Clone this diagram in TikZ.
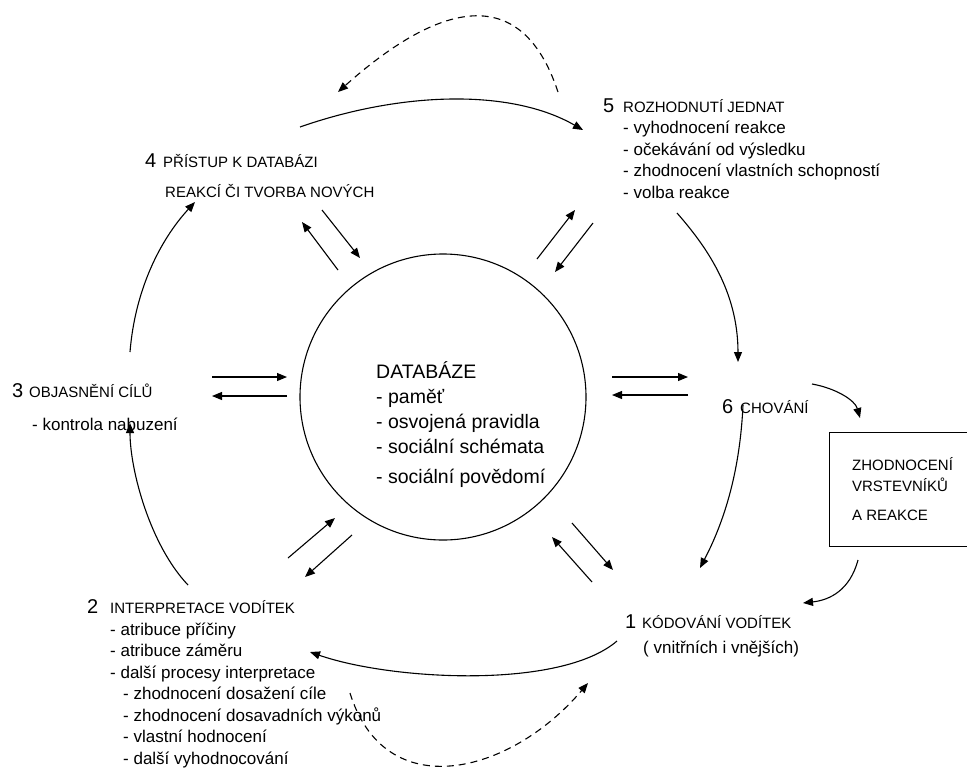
\documentclass[tikz,border=0pt]{standalone}
\usepackage{fontspec}
\setmainfont{Liberation Sans}
\usetikzlibrary{arrows.meta}

\newcommand{\nr}[2][18pt]{\makebox[#1][l]{\fontsize{20}{20}\selectfont #2}}
\newcommand{\hd}{\fontsize{15}{15}\selectfont}

\tikzset{
  txt/.style={font=\fontsize{17}{22}\selectfont, align=left, inner sep=0pt, anchor=base west},
  arr/.style={-{Triangle[length=10pt,width=8pt]}, line width=1.1pt},
  dasharr/.style={arr, dash pattern=on 7pt off 5pt},
}

\begin{document}
\begin{tikzpicture}[x=1pt,y=-1pt]
    \useasboundingbox (0,0) rectangle (967,769);
    \clip (0,0) rectangle (967,769);

    % databaze uprostred
    \node[circle, draw, line width=1.1pt, minimum size=286pt] (db) at (443,397) {};
    \node[txt, font=\fontsize{19.5}{25}\selectfont] (dbtxt) at (376,483)
        {DATABÁZE\\- paměť\\- osvojená pravidla\\- sociální schémata\\[5pt]- sociální povědomí};

    % kroky (base = posledni radek)
    \node[txt, font=\fontsize{17}{21.5}\selectfont] (n5) at (603,198)
        {\nr[20pt]{5}{\hd ROZHODNUTÍ JEDNAT}\\
         \hspace*{20pt}- vyhodnocení reakce\\
         \hspace*{20pt}- očekávání od výsledku\\
         \hspace*{20pt}- zhodnocení vlastních schopností\\
         \hspace*{20pt}- volba reakce};
    \node[txt] (n4) at (145,197)
        {\nr{4}{\hd PŘÍSTUP K DATABÁZI}\\[8pt]
         \hspace*{20pt}{\hd REAKCÍ ČI TVORBA NOVÝCH}};
    \node[txt] (n3) at (12,430)
        {\nr[17pt]{3}{\hd OBJASNĚNÍ CÍLŮ}\\[11pt]
         \hspace*{20pt}- kontrola nabuzení};
    \node[txt, font=\fontsize{17}{21.5}\selectfont] (n2) at (87,764)
        {\nr[23pt]{2}{\hd INTERPRETACE VODÍTEK}\\
         \hspace*{23pt}- atribuce příčiny\\
         \hspace*{23pt}- atribuce záměru\\
         \hspace*{23pt}- další procesy interpretace\\
         \hspace*{36pt}- zhodnocení dosažení cíle\\
         \hspace*{36pt}- zhodnocení dosavadních výkonů\\
         \hspace*{36pt}- vlastní hodnocení\\
         \hspace*{36pt}- další vyhodnocování};
    \node[txt] (n1) at (625,653)
        {\nr[17pt]{1}{\hd KÓDOVÁNÍ VODÍTEK}\\[3pt]
         \hspace*{18pt}( vnitřních i vnějších)};
    \node[txt] (n6) at (722,413) {\nr{6}{\hd CHOVÁNÍ}};
    \node[draw, line width=1.1pt, minimum width=146pt, minimum height=114pt,
          anchor=north west, align=left, font=\fontsize{15}{21}\selectfont] (peers) at (829,432)
        {ZHODNOCENÍ\\VRSTEVNÍKŮ\\[8pt]A REAKCE};

    % konce sipek kolem kruhu
    \coordinate (la1) at (212,377); \coordinate (la2) at (287,377);
    \coordinate (lb1) at (287,396); \coordinate (lb2) at (212,396);
    \coordinate (ra1) at (612,377); \coordinate (ra2) at (688,377);
    \coordinate (rb1) at (688,395); \coordinate (rb2) at (612,395);
    \coordinate (ula1) at (338,270); \coordinate (ula2) at (302,222);
    \coordinate (ulb1) at (322,210); \coordinate (ulb2) at (360,258);
    \coordinate (ura1) at (537,259); \coordinate (ura2) at (575,210);
    \coordinate (urb1) at (593,223); \coordinate (urb2) at (555,272);
    \coordinate (lla1) at (352,535); \coordinate (lla2) at (305,577);
    \coordinate (llb1) at (288,558); \coordinate (llb2) at (335,518);
    \coordinate (lra1) at (572,523); \coordinate (lra2) at (613,570);
    \coordinate (lrb1) at (592,582); \coordinate (lrb2) at (552,537);

    \draw[arr] (la1) -- (la2);
    \draw[arr] (lb1) -- (lb2);
    \draw[arr] (ra1) -- (ra2);
    \draw[arr] (rb1) -- (rb2);
    \draw[arr] (ula1) -- (ula2);
    \draw[arr] (ulb1) -- (ulb2);
    \draw[arr] (ura1) -- (ura2);
    \draw[arr] (urb1) -- (urb2);
    \draw[arr] (lla1) -- (lla2);
    \draw[arr] (llb1) -- (llb2);
    \draw[arr] (lra1) -- (lra2);
    \draw[arr] (lrb1) -- (lrb2);

    % konce oblouku
    \coordinate (t1) at (300,127);  \coordinate (t2) at (583,130);
    \coordinate (td1) at (558,92);  \coordinate (td2) at (338,92);
    \coordinate (s1) at (677,213);  \coordinate (s2) at (738,362);
    \coordinate (b1) at (812,384);  \coordinate (b2) at (860,418);
    \coordinate (b3) at (858,560);  \coordinate (b4) at (803,603);
    \coordinate (k1) at (743,405);  \coordinate (k2) at (700,568);
    \coordinate (i1) at (617,641);  \coordinate (i2) at (310,652);
    \coordinate (bd1) at (350,693); \coordinate (bd2) at (588,683);
    \coordinate (o1) at (188,585);  \coordinate (o2) at (130,423);
    \coordinate (p1) at (130,352);  \coordinate (p2) at (195,202);

    \draw[arr] (t1) .. controls (400,92) and (510,88) .. (t2);
    \draw[dasharr] (td1) .. controls (519,-26) and (430,10) .. (td2);
    \draw[arr] (s1) .. controls (705,245) and (738,290) .. (s2);
    \draw[arr] (b1) .. controls (835,388) and (855,400) .. (b2);
    \draw[arr] (b3) .. controls (850,590) and (830,600) .. (b4);
    \draw[arr] (k1) .. controls (740,470) and (725,520) .. (k2);
    \draw[arr] (i1) .. controls (560,690) and (390,680) .. (i2);
    \draw[dasharr] (bd1) .. controls (385,806) and (510,775) .. (bd2);
    \draw[arr] (o1) .. controls (150,545) and (130,470) .. (o2);
    \draw[arr] (p1) .. controls (135,290) and (160,240) .. (p2);
\end{tikzpicture}
\end{document}
